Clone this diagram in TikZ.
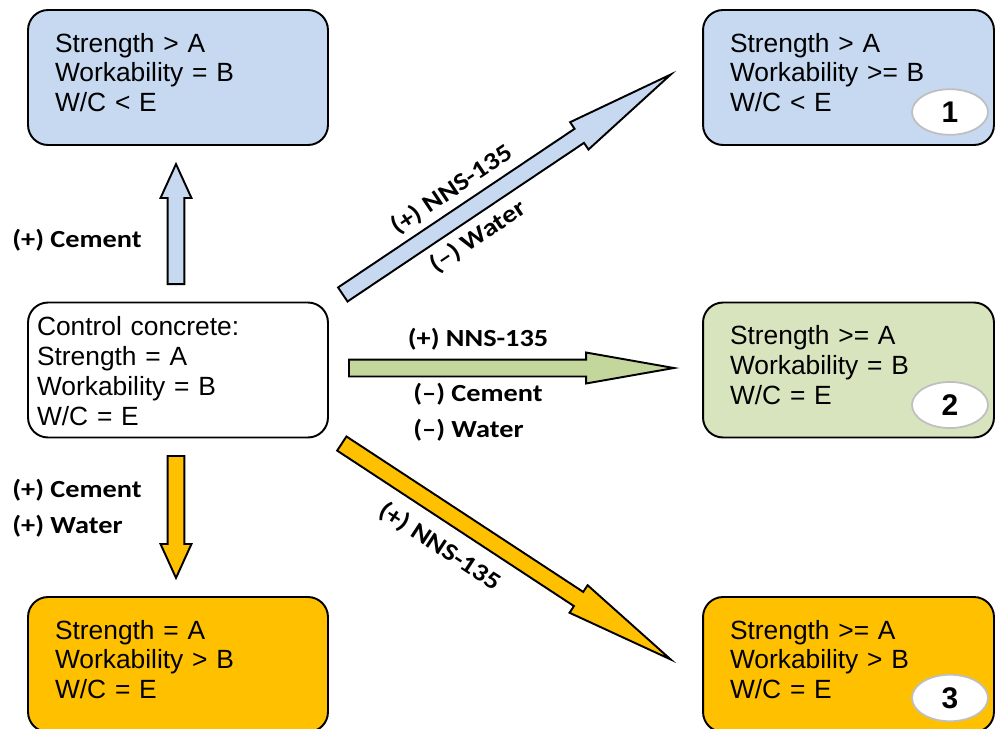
\documentclass[tikz,border=0pt]{standalone}
\usepackage{fontspec}
\setmainfont{Liberation Sans}
\newfontfamily\lblfont[FakeStretch=1.15]{Carlito}
\usetikzlibrary{shapes.arrows,shapes.geometric}

\definecolor{boxblue}{RGB}{198,217,240}
\definecolor{boxgreen}{RGB}{215,228,189}
\definecolor{arrgreen}{RGB}{195,214,155}
\definecolor{boxorange}{RGB}{255,192,0}
\definecolor{badgegray}{RGB}{191,191,191}
\newcommand\boxpad{\endgraf\vspace{0.2cm}}
\newcommand\ctrlpad{\endgraf\vspace{-0.24cm}}

\begin{document}
\begin{tikzpicture}[x=0.02cm, y=-0.02cm,
  every node/.style={font=\fontsize{15}{17}\selectfont},
  statebox/.style={draw, line width=1.1pt, rounded corners=0.4cm, minimum height=2.7cm,
    inner xsep=0.54cm, inner ysep=0pt, text width=4.92cm, align=left,
    execute at end node=\boxpad},
  rightbox/.style={statebox, text width=4.74cm},
  badge/.style={ellipse, draw=badgegray, line width=1pt, fill=white, minimum width=1.52cm,
    minimum height=0.9cm, font=\fontsize{17}{20}\selectfont\bfseries},
  blockarr/.style={single arrow, draw, line width=1.1pt, inner xsep=0pt, inner ysep=0.15cm,
    single arrow head extend=0.14cm, pos=0, sloped, allow upside down, anchor=tail},
  lbl/.style={font=\lblfont\bfseries\fontsize{14}{20.5}\selectfont, inner sep=0pt}]
\useasboundingbox (0,0) rectangle (995,728);

% Mix boxes
\node[statebox, fill=boxblue] (cem) at (178,77.5) {Strength > A\\Workability = B\\W/C < E};
\node[rightbox, fill=boxblue] (mix1) at (848.5,77.5) {Strength > A\\Workability >= B\\W/C < E};
\node[statebox, fill=white, inner xsep=0.18cm, text width=5.64cm, execute at end node=\ctrlpad] (ctrl) at (178,370)
  {Control concrete:\\Strength = A\\Workability = B\\W/C = E};
\node[rightbox, fill=boxgreen] (mix2) at (848.5,370) {Strength >= A\\Workability = B\\W/C = E};
\node[statebox, fill=boxorange] (cemw) at (178,664.5) {Strength = A\\Workability > B\\W/C = E};
\node[rightbox, fill=boxorange] (mix3) at (848.5,664.5) {Strength >= A\\Workability > B\\W/C = E};

% Numbers
\node[badge] (n1) at (950,112) {1};
\node[badge] (n2) at (950,405) {2};
\node[badge] (n3) at (950,698) {3};

% Arrow ends
\coordinate (upA) at (176,285);
\coordinate (upB) at (176,165);
\coordinate (dnA) at (176,455);
\coordinate (dnB) at (176,577);
\coordinate (grA) at (348,368);
\coordinate (grB) at (673,368);
\coordinate (bdA) at (342,295);
\coordinate (bdB) at (670,75);
\coordinate (odA) at (341,443);
\coordinate (odB) at (670,659);

% Block arrows with their labels
\path (upA) -- (upB) node[blockarr, fill=boxblue, minimum height=2.4cm, single arrow tip angle=49] {}
  node[lbl, pos=.375, left=0.68cm] {(+) Cement};
\path (dnA) -- (dnB) node[blockarr, fill=boxorange, minimum height=2.44cm, single arrow tip angle=49] {}
  node[lbl, pos=.434, left=0.68cm, align=left] {(+) Cement\\(+) Water};
\path (grA) -- (grB) node[blockarr, fill=arrgreen, minimum height=6.5cm, single arrow tip angle=20] {}
  node[lbl, pos=.4, yshift=0.58cm] {(+) NNS-135}
  node[lbl, pos=.4, yshift=-0.89cm, align=left] {(–) Cement\\(–) Water};
\path (bdA) -- (bdB) node[blockarr, fill=boxblue, minimum height=7.9cm,
    single arrow head extend=0.16cm, single arrow tip angle=17] {}
  node[lbl, pos=.38, sloped, yshift=0.52cm] {(+) NNS-135}
  node[lbl, pos=.368, sloped, yshift=-0.55cm] {(–) Water};
\path (odA) -- (odB) node[blockarr, fill=boxorange, minimum height=7.87cm,
    single arrow head extend=0.16cm, single arrow tip angle=17] {}
  node[lbl, pos=.355, sloped, yshift=-0.65cm] {(+) NNS-135};
\end{tikzpicture}
\end{document}
